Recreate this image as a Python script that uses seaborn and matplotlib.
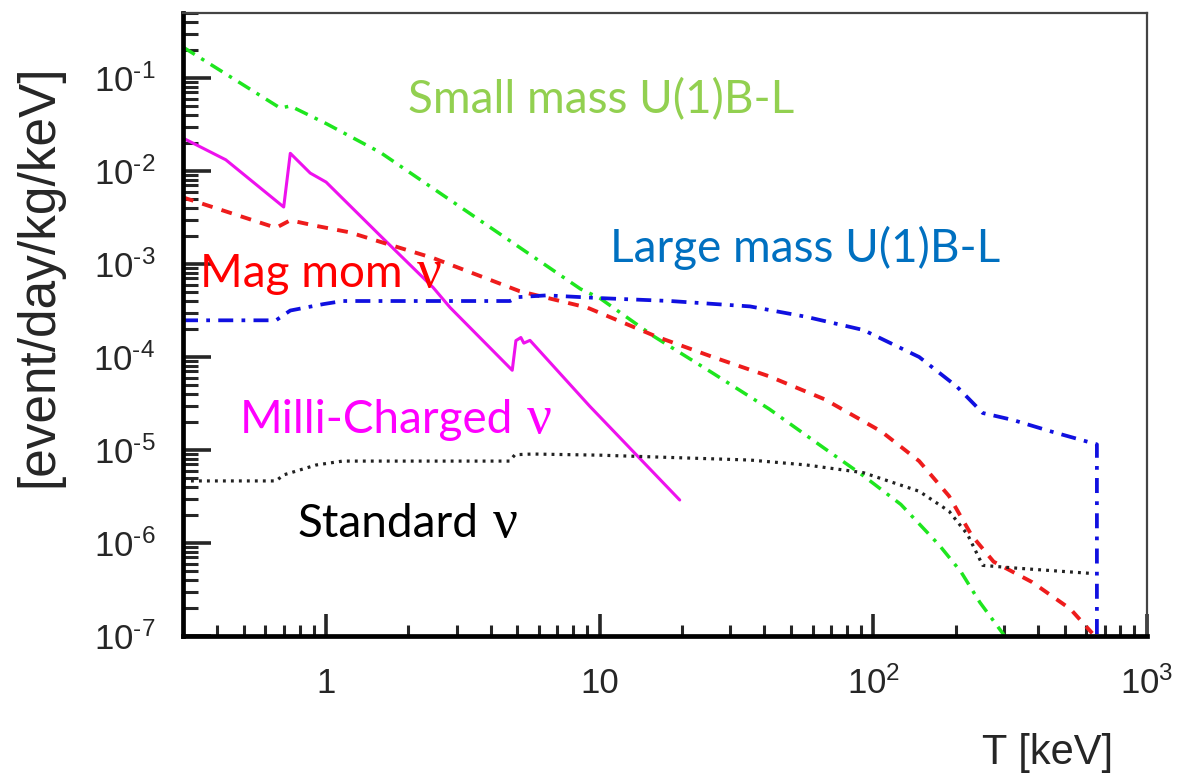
import numpy as np
import pandas as pd
import matplotlib
matplotlib.use("Agg")
import matplotlib.pyplot as plt
from matplotlib.ticker import LogLocator, NullFormatter
from matplotlib.transforms import offset_copy
import seaborn as sns

# ---------------- data ----------------
small_T = [0.30, 0.68, 0.74, 1.0, 1.58, 2.75, 4.8, 8.5, 10, 15.8, 25.7, 41.7, 66, 91, 126, 174, 209, 245, 302]
small_V = [0.215, 0.0475, 0.050, 0.0324, 0.0158, 5.2e-3, 1.7e-3, 5.4e-4, 4.3e-4, 1.66e-4, 6.8e-5,
           2.75e-5, 1.05e-5, 5.4e-6, 2.6e-6, 9.5e-7, 4.9e-7, 2.3e-7, 1.0e-7]

milli_T = [0.30, 0.43, 0.70, 0.74, 0.875, 1.0, 1.61, 2.46, 2.84, 4.79, 4.94, 5.15, 5.28, 5.56, 9.2, 19.6]
milli_V = [0.0226, 0.0132, 4.1e-3, 0.0155, 9.5e-3, 7.6e-3, 1.9e-3, 5.6e-4, 3.4e-4, 7.2e-5, 1.5e-4,
           1.62e-4, 1.41e-4, 1.51e-4, 2.95e-5, 2.9e-6]

mag_T = [0.30, 0.656, 0.74, 0.92, 1.22, 1.61, 2.46, 5.1, 9.0, 16.1, 25.9, 41.6, 66.5, 107, 147, 189,
         229, 275, 380, 525, 631]
mag_V = [5.2e-3, 2.45e-3, 2.95e-3, 2.57e-3, 2.19e-3, 1.7e-3, 1.16e-3, 5.1e-4, 3.4e-4, 1.66e-4, 1.0e-4,
         6.2e-5, 3.5e-5, 1.58e-5, 7.6e-6, 3.2e-6, 1.2e-6, 6.3e-7, 3.8e-7, 1.95e-7, 1.07e-7]

large_T = [0.30, 0.656, 0.74, 0.975, 1.15, 2.46, 4.7, 5.0, 6.4, 10, 18.1, 35.4, 57, 92, 147, 202, 251,
           324, 447, 656, 656]
large_V = [2.48e-4, 2.48e-4, 3.16e-4, 3.7e-4, 4.0e-4, 4.0e-4, 4.0e-4, 4.4e-4, 4.6e-4, 4.3e-4, 4.0e-4,
           3.5e-4, 2.7e-4, 1.95e-4, 1.0e-4, 4.8e-5, 2.5e-5, 2.1e-5, 1.58e-5, 1.15e-5, 9e-8]

std_T = [0.30, 0.656, 0.70, 0.92, 1.15, 4.68, 4.9, 5.7, 10, 35.4, 57, 92, 147, 189, 221, 251, 324, 631]
std_V = [4.65e-6, 4.65e-6, 5.4e-6, 6.9e-6, 7.6e-6, 7.6e-6, 8.9e-6, 9.05e-6, 8.8e-6, 7.8e-6, 6.9e-6,
         5.7e-6, 3.6e-6, 2.2e-6, 1.23e-6, 5.75e-7, 5.4e-7, 4.7e-7]

x_ticks = [1, 10, 100, 1000]
x_ticklabels = ["1", "10", "10$^{2}$", "10$^{3}$"]
y_ticks = [1e-7, 1e-6, 1e-5, 1e-4, 1e-3, 1e-2, 1e-1]
y_ticklabels = ["10$^{\\text{-}7}$", "10$^{\\text{-}6}$", "10$^{\\text{-}5}$", "10$^{\\text{-}4}$",
                "10$^{\\text{-}3}$", "10$^{\\text{-}2}$", "10$^{\\text{-}1}$"]

# ---------------- style ----------------
sns.set_style("ticks")
plt.rcParams["font.family"] = ["Liberation Sans", "DejaVu Sans"]
plt.rcParams["mathtext.fontset"] = "custom"
plt.rcParams["mathtext.rm"] = "Liberation Sans"
plt.rcParams["mathtext.it"] = "Liberation Sans:italic"
plt.rcParams["mathtext.default"] = "regular"

fig = plt.figure(figsize=(11.89, 7.77), dpi=100)
ax = fig.add_axes([183 / 1189, 1 - 636 / 777, 964 / 1189, 623 / 777])

series = [
    (small_T, small_V, "#1ee61e", (0, (4, 2.2, 1, 2.2)), 2.5),
    (milli_T, milli_V, "#ee11ee", "-", 2.2),
    (mag_T, mag_V, "#ee1c1c", (0, (2.8, 2.4)), 2.8),
    (large_T, large_V, "#1010e0", (0, (4, 2.2, 1, 2.2)), 2.7),
    (std_T, std_V, "#222222", (0, (0.9, 1.6)), 2.3),
]
for T, V, col, ls, lw in series:
    df = pd.DataFrame({"T": T, "V": V})
    sns.lineplot(data=df, x="T", y="V", ax=ax, color=col, linestyle=ls, linewidth=lw,
                 estimator=None, sort=False)

ax.set_xscale("log")
ax.set_yscale("log")
ax.set_xlim(0.30, 1000)
ax.set_ylim(1e-7, 0.5)

ax.set_xticks(x_ticks)
ax.set_xticklabels(x_ticklabels)
ax.set_yticks(y_ticks)
ax.set_yticklabels(y_ticklabels)
ax.xaxis.set_minor_locator(LogLocator(base=10, subs=np.arange(2, 10)))
ax.yaxis.set_minor_locator(LogLocator(base=10, subs=np.arange(2, 10)))
ax.xaxis.set_minor_formatter(NullFormatter())
ax.yaxis.set_minor_formatter(NullFormatter())

ax.tick_params(axis="x", which="major", direction="in", length=16, width=2.6, labelsize=25, pad=22)
ax.tick_params(axis="x", which="minor", direction="in", length=8, width=2.2)
ax.tick_params(axis="y", which="major", direction="in", length=20, width=2.6, labelsize=25, pad=20)
ax.tick_params(axis="y", which="minor", direction="in", length=11, width=2.2)
ax.tick_params(top=False, right=False, which="both")

for s in ["left", "bottom"]:
    ax.spines[s].set_linewidth(3.4)
    ax.spines[s].set_color("black")
for s in ["top", "right"]:
    ax.spines[s].set_linewidth(1.6)
    ax.spines[s].set_color("#444444")

ax.set_xlabel("T [keV]", fontsize=30, ha="right", va="center")
ax.xaxis.set_label_coords(0.965, -0.188)
ax.set_ylabel("[event/day/kg/keV]", fontsize=37, va="center", ha="center")
ax.yaxis.set_label_coords(-0.150, 0.578)

# ---------------- annotations ----------------
fam = ["Lato", "DejaVu Sans"]
fs = 33
ax.text(0.2334, 0.8395, "Small mass U(1)B-L", transform=ax.transAxes, color="#92D050",
        fontsize=fs, family=fam, ha="left", va="baseline")
ax.text(0.443, 0.600, "Large mass U(1)B-L", transform=ax.transAxes, color="#0070C0",
        fontsize=fs, family=fam, ha="left", va="baseline")

nu_labels = [
    (0.0176, 0.560, "Mag mom", "#FF0000"),
    (0.059, 0.326, "Milli-Charged", "#FF00FF"),
    (0.119, 0.159, "Standard", "#000000"),
]
fig.canvas.draw()
renderer = fig.canvas.get_renderer()
for x, y, s, col in nu_labels:
    t = ax.text(x, y, s, transform=ax.transAxes, color=col, fontsize=fs, family=fam,
                ha="left", va="baseline")
    w = t.get_window_extent(renderer=renderer).width
    tr = offset_copy(ax.transAxes, fig=fig, x=w + fs * 0.30 * 100 / 72, y=0, units="dots")
    ax.text(x, y, "\u03bd", transform=tr, color=col, fontsize=fs * 1.2,
            family=["Liberation Serif", "DejaVu Serif"], ha="left", va="baseline")

fig.savefig("out.png", dpi=100)
